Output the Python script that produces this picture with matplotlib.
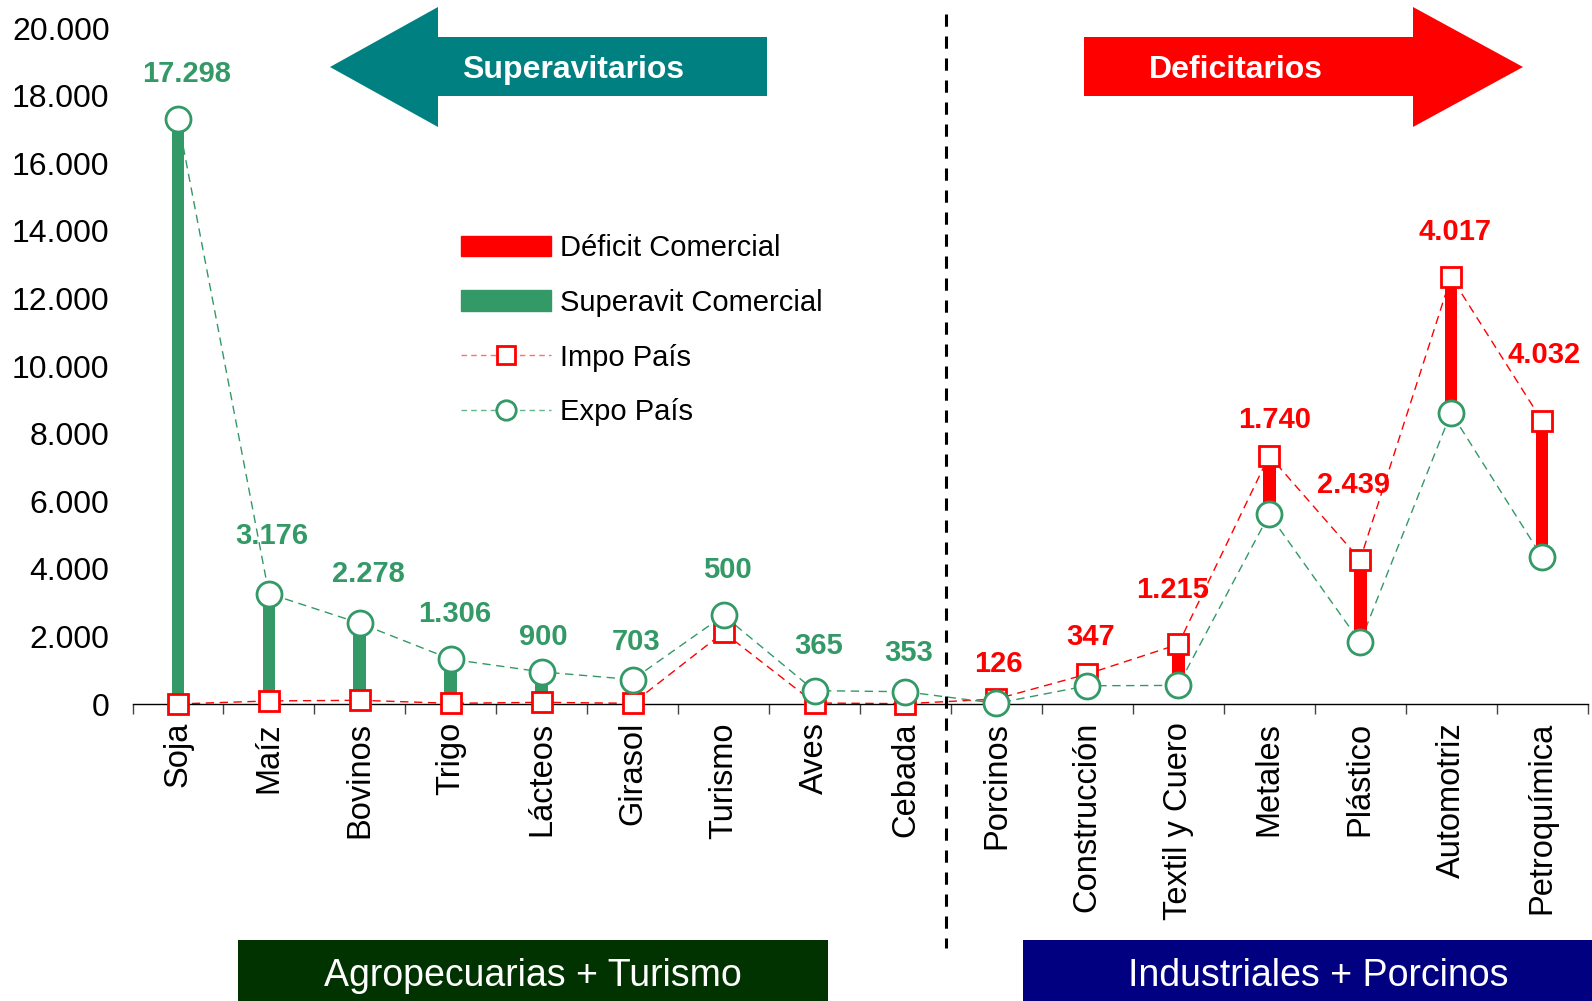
import matplotlib
matplotlib.use("Agg")
import matplotlib.pyplot as plt
from matplotlib.patches import Polygon, Rectangle, Patch
from matplotlib.lines import Line2D
from matplotlib.ticker import FuncFormatter, FixedLocator
from matplotlib.transforms import blended_transform_factory

plt.rcParams["font.family"] = ["Liberation Sans", "DejaVu Sans"]

# Datos (millones de USD)
categorias = ["Soja", "Maíz", "Bovinos", "Trigo", "Lácteos", "Girasol", "Turismo", "Aves",
              "Cebada", "Porcinos", "Construcción", "Textil y Cuero", "Metales", "Plástico",
              "Automotriz", "Petroquímica"]
expo = [17300, 3266, 2388, 1326, 950, 723, 2620, 395, 363, 20, 540, 550, 5610, 1830, 8620, 4350]
impo = [2, 90, 110, 20, 50, 20, 2120, 30, 10, 146, 887, 1765, 7350, 4269, 12637, 8382]

VERDE = "#339966"
ROJO = "#FF0000"
W, H = 1592, 1001


def fx(px):
    return px / W


def fy(py):
    return 1 - py / H


def miles(v, pos=None):
    return "{:,.0f}".format(v).replace(",", ".")


fig = plt.figure(figsize=(W / 100, H / 100), dpi=100)
ax = fig.add_axes([fx(132.5), fy(704), 1455 / W, 676 / H])

x = list(range(len(categorias)))

# barras de saldo comercial
for i in x:
    lo, hi = min(expo[i], impo[i]), max(expo[i], impo[i])
    color = VERDE if expo[i] >= impo[i] else ROJO
    ax.bar(i, hi - lo, bottom=lo, width=0.14, color=color, zorder=2)

# lineas punteadas
ax.plot(x, impo, color=ROJO, lw=1, dashes=(6, 4), zorder=1)
ax.plot(x, expo, color=VERDE, lw=1, dashes=(6, 4), zorder=1)
ax.plot(x, impo, ls="none", marker="s", ms=15, mfc="white", mec=ROJO, mew=2, zorder=3, clip_on=False)
ax.plot(x, expo, ls="none", marker="o", ms=18, mfc="white", mec=VERDE, mew=2, zorder=4, clip_on=False)

# etiquetas de saldo
ajustes = {0: (9, 45), 1: (3, 58), 2: (9, 49), 11: (-6, 54), 12: (5, 36), 13: (-7, 75),
           15: (2, 66), 4: (2, 35), 5: (3, 38), 9: (2, 35), 10: (3, 37), 8: (3, 39)}
for i in x:
    saldo = expo[i] - impo[i]
    color = VERDE if saldo >= 0 else ROJO
    dx, dy = ajustes.get(i, (4, 45))
    ax.annotate(miles(abs(saldo)), (i, max(expo[i], impo[i])), xytext=(dx, dy),
                textcoords="offset pixels", ha="center", va="center",
                fontsize=21, fontweight="bold", color=color, zorder=5)

ax.set_xlim(-0.5, 15.5)
ax.set_ylim(0, 20000)
ax.yaxis.set_major_locator(FixedLocator(range(0, 20001, 2000)))
ax.yaxis.set_major_formatter(FuncFormatter(miles))
ax.tick_params(axis="y", left=False, labelsize=23, pad=13)

ax.set_xticks(x)
ax.set_xticklabels(categorias, rotation=90, fontsize=23.5)
ax.set_xticks([i - 0.5 for i in range(len(categorias) + 1)], minor=True)
ax.tick_params(axis="x", which="major", length=0, pad=13)
ax.tick_params(axis="x", which="minor", length=7, width=1, color="#444444")

for s in ["left", "top", "right"]:
    ax.spines[s].set_visible(False)
ax.spines["bottom"].set_linewidth(1)

# division vertical
trans = blended_transform_factory(ax.transData, fig.transFigure)
ax.plot([8.45, 8.45], [fy(14), fy(948)], transform=trans, color="black", lw=2.2,
        dashes=(4, 3.2), clip_on=False, zorder=6)

# leyenda
handles = [
    Patch(color=ROJO),
    Patch(color=VERDE),
    Line2D([], [], color="#FF7070", lw=1, dashes=(4, 3), marker="s", ms=13, mfc="white", mec=ROJO, mew=2),
    Line2D([], [], color="#66B38C", lw=1, dashes=(4, 3), marker="o", ms=14, mfc="white", mec=VERDE, mew=2),
]
etiquetas = ["Déficit Comercial", "Superavit Comercial", "Impo País", "Expo País"]
fig.legend(handles, etiquetas, loc="upper left", bbox_to_anchor=(fx(461), fy(234)),
           frameon=False, fontsize=21, handlelength=3.1, handletextpad=0.3,
           labelspacing=0.92, borderpad=0, borderaxespad=0, numpoints=1)

# flechas
flecha_sup = [(330, 67), (438, 7), (438, 37), (767, 37), (767, 96), (438, 96), (438, 127)]
flecha_def = [(1084, 37), (1413, 37), (1413, 7), (1523, 67), (1413, 127), (1413, 96), (1084, 96)]
fig.patches.append(Polygon([(fx(a), fy(b)) for a, b in flecha_sup], closed=True,
                           facecolor="#008080", edgecolor="none", transform=fig.transFigure))
fig.patches.append(Polygon([(fx(a), fy(b)) for a, b in flecha_def], closed=True,
                           facecolor=ROJO, edgecolor="none", transform=fig.transFigure))
fig.text(fx(573), fy(70), "Superavitarios", color="white", fontsize=23, fontweight="bold",
         ha="center", va="center")
fig.text(fx(1236), fy(70), "Deficitarios", color="white", fontsize=23, fontweight="bold",
         ha="center", va="center")

# cajas inferiores
fig.patches.append(Rectangle((fx(238), 0), (828 - 238) / W, 61 / H, facecolor="#003300",
                             edgecolor="none", transform=fig.transFigure))
fig.patches.append(Rectangle((fx(1023), 0), (W - 1023) / W, 61 / H, facecolor="#000080",
                             edgecolor="none", transform=fig.transFigure))
fig.text(fx(533), fy(976), "Agropecuarias + Turismo", color="white", fontsize=27,
         ha="center", va="center")
fig.text(fx(1318), fy(976), "Industriales + Porcinos", color="white", fontsize=27,
         ha="center", va="center")

fig.savefig("out.png", dpi=100)
